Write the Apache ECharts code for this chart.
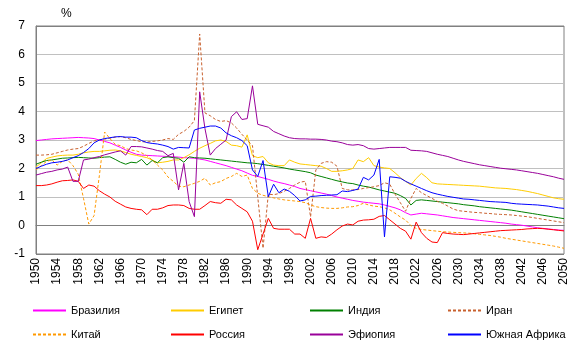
<!DOCTYPE html>
<html>
<head>
<meta charset="utf-8">
<script src="https://cdn.jsdelivr.net/npm/echarts@6/dist/echarts.min.js"></script>
<style>
  html, body { margin: 0; padding: 0; background: #fff; }
  #chart { width: 579px; height: 353px; }
</style>
</head>
<body>
<div id="chart"></div>
<script>
// годы 1950-2050
var years = [];
for (var y = 1950; y <= 2050; y++) years.push(String(y));

var brazil = [2.98,3.0,3.02,3.04,3.05,3.06,3.07,3.08,3.09,3.08,
  3.07,3.05,3.0,2.95,2.9,2.82,2.74,2.65,2.57,2.5,
  2.47,2.46,2.45,2.44,2.43,2.42,2.41,2.4,2.38,2.37,
  2.36,2.33,2.3,2.25,2.2,2.15,2.1,2.04,1.98,1.92,
  1.84,1.76,1.72,1.67,1.62,1.56,1.51,1.47,1.42,1.37,
  1.3,1.26,1.22,1.18,1.14,1.1,1.05,1.0,0.96,0.92,
  0.88,0.85,0.82,0.8,0.78,0.76,0.72,0.67,0.62,0.55,
  0.45,0.37,0.4,0.43,0.41,0.39,0.37,0.34,0.31,0.28,
  0.26,0.24,0.22,0.2,0.18,0.16,0.14,0.12,0.1,0.08,
  0.05,0.03,0.01,-0.02,-0.05,-0.08,-0.1,-0.12,-0.14,-0.16,
  -0.17];
var egypt = [2.05,2.2,2.35,2.4,2.44,2.46,2.47,2.47,2.5,2.55,
  2.58,2.6,2.6,2.62,2.64,2.65,2.62,2.56,2.5,2.46,
  2.42,2.38,2.3,2.2,2.22,2.25,2.3,2.3,2.38,2.48,
  2.6,2.71,2.8,2.88,2.97,3.0,2.95,2.82,2.8,2.75,
  3.18,2.45,2.38,2.42,2.2,2.12,2.1,2.1,2.3,2.22,
  2.16,2.14,2.12,2.1,2.08,2.0,1.9,1.9,1.92,1.95,
  2.0,2.3,2.24,2.38,2.1,2.05,2.02,2.0,1.85,1.68,
  1.55,1.42,1.65,1.83,1.68,1.5,1.46,1.45,1.44,1.43,
  1.42,1.41,1.4,1.39,1.38,1.36,1.34,1.32,1.31,1.3,
  1.28,1.26,1.23,1.2,1.16,1.12,1.07,1.02,0.97,0.94,
  0.92];
var india = [2.15,2.22,2.28,2.3,2.33,2.36,2.37,2.38,2.39,2.38,
  2.37,2.36,2.38,2.4,2.41,2.32,2.22,2.15,2.22,2.2,
  2.32,2.12,2.28,2.2,2.38,2.41,2.38,2.36,2.22,2.41,
  2.38,2.37,2.36,2.34,2.32,2.3,2.28,2.26,2.24,2.22,
  2.2,2.19,2.17,2.14,2.11,2.08,2.05,2.02,1.98,1.95,
  1.92,1.89,1.85,1.77,1.72,1.67,1.62,1.57,1.53,1.49,
  1.47,1.42,1.38,1.35,1.3,1.25,1.21,1.17,1.13,1.05,
  0.95,0.72,0.88,0.9,0.88,0.86,0.84,0.82,0.8,0.78,
  0.76,0.73,0.71,0.69,0.66,0.64,0.62,0.6,0.58,0.56,
  0.54,0.51,0.48,0.45,0.42,0.39,0.36,0.33,0.3,0.27,
  0.24];
var iran = [2.47,2.47,2.48,2.5,2.55,2.6,2.65,2.68,2.7,2.78,
  2.88,2.97,3.0,3.03,3.06,3.1,3.12,3.08,3.02,2.98,
  2.94,2.93,2.95,2.97,3.0,3.05,3.02,3.2,3.3,3.45,
  3.68,6.72,3.95,3.85,3.72,3.65,3.68,3.6,3.42,3.2,
  3.0,2.8,1.0,-0.8,1.1,1.08,1.12,1.2,1.3,1.42,
  1.52,1.55,0.3,1.95,2.18,2.24,2.22,2.08,1.3,1.25,
  1.25,1.26,1.3,1.33,1.36,1.4,1.5,1.45,1.1,0.8,
  0.5,0.95,1.3,1.15,1.05,0.95,0.85,0.78,0.68,0.58,
  0.52,0.5,0.48,0.46,0.45,0.43,0.42,0.4,0.39,0.38,
  0.37,0.35,0.33,0.31,0.28,0.25,0.22,0.19,0.16,0.13,
  0.1];
var china = [1.95,2.1,2.25,2.3,2.12,2.25,2.3,2.1,1.8,0.95,
  0.05,0.35,1.75,3.28,3.05,2.85,2.8,2.7,2.65,2.62,
  2.55,2.45,2.3,2.12,1.95,1.7,1.55,1.38,1.36,1.42,
  1.48,1.55,1.66,1.42,1.5,1.54,1.65,1.72,1.83,1.72,
  1.77,1.3,1.13,1.06,1.01,0.97,0.93,0.9,0.88,0.86,
  0.84,0.8,0.72,0.66,0.63,0.61,0.6,0.6,0.62,0.65,
  0.66,0.7,0.78,0.72,0.68,0.66,0.62,0.55,0.43,0.3,
  0.19,0.0,-0.1,-0.14,-0.16,-0.18,-0.2,-0.22,-0.23,-0.24,
  -0.25,-0.26,-0.27,-0.29,-0.31,-0.33,-0.35,-0.38,-0.41,-0.45,
  -0.48,-0.51,-0.54,-0.57,-0.6,-0.63,-0.66,-0.69,-0.72,-0.76,
  -0.8];
var russia = [1.4,1.4,1.42,1.46,1.52,1.57,1.58,1.6,1.55,1.3,
  1.42,1.38,1.22,1.1,1.0,0.85,0.75,0.65,0.6,0.57,
  0.55,0.38,0.57,0.57,0.62,0.7,0.72,0.72,0.7,0.6,
  0.57,0.57,0.7,0.84,0.8,0.78,0.92,0.9,0.72,0.6,
  0.48,0.15,-0.85,-0.3,0.25,-0.1,-0.13,-0.13,-0.13,-0.3,
  -0.3,-0.45,0.25,-0.45,-0.4,-0.42,-0.3,-0.15,-0.02,0.05,
  0.02,0.15,0.19,0.2,0.22,0.32,0.35,0.2,0.05,-0.1,
  -0.2,-0.48,0.12,-0.25,-0.45,-0.58,-0.6,-0.25,-0.28,-0.3,
  -0.31,-0.32,-0.3,-0.28,-0.26,-0.24,-0.22,-0.2,-0.18,-0.17,
  -0.16,-0.15,-0.14,-0.12,-0.11,-0.1,-0.11,-0.13,-0.15,-0.17,
  -0.19];
var ethiopia = [1.77,1.82,1.87,1.9,1.95,1.98,2.05,1.55,1.55,2.3,
  2.33,2.38,2.42,2.48,2.53,2.58,2.62,2.47,2.77,2.77,
  2.76,2.72,2.68,2.63,2.6,2.45,2.53,1.25,2.18,0.84,
  0.31,4.69,3.4,2.47,2.7,2.85,3.0,3.82,3.99,3.72,
  3.75,4.9,3.55,3.5,3.45,3.3,3.22,3.14,3.08,3.05,
  3.04,3.04,3.03,3.03,3.02,3.0,2.96,2.94,2.9,2.84,
  2.82,2.84,2.8,2.7,2.68,2.7,2.72,2.74,2.74,2.74,
  2.74,2.64,2.63,2.62,2.6,2.55,2.5,2.46,2.42,2.36,
  2.3,2.25,2.21,2.17,2.13,2.1,2.07,2.04,2.01,1.99,
  1.97,1.95,1.92,1.89,1.86,1.83,1.79,1.75,1.71,1.66,
  1.62];
var southAfrica = [2.0,2.08,2.15,2.2,2.22,2.25,2.3,2.38,2.45,2.56,
  2.7,2.9,3.0,3.05,3.08,3.11,3.12,3.1,3.1,3.08,
  2.98,2.91,2.88,2.86,2.82,2.77,2.68,2.74,2.73,2.72,
  3.35,3.41,3.45,3.49,3.49,3.42,3.25,3.15,3.08,2.98,
  2.8,1.95,1.72,2.28,1.01,1.45,1.15,1.28,1.2,1.05,
  0.86,0.9,1.02,1.03,1.05,1.06,1.07,1.08,1.21,1.19,
  1.23,1.28,1.69,1.6,1.77,2.32,-0.4,1.71,1.69,1.66,
  1.55,1.46,1.38,1.3,1.22,1.15,1.1,1.06,1.02,0.99,
  0.96,0.93,0.92,0.9,0.88,0.86,0.84,0.83,0.82,0.81,
  0.78,0.76,0.75,0.74,0.73,0.72,0.7,0.68,0.65,0.62,
  0.6];

var yTicks = [-1, 7, 1]; // min, max, шаг

var chart = echarts.init(document.getElementById('chart'));

var FONT = '"Liberation Sans", Arial, sans-serif';

function mkSeries(name, data, color, dashed) {
  return {
    name: name,
    type: 'line',
    data: data,
    symbol: 'none',
    silent: true,
    lineStyle: { color: color, width: 1, type: dashed ? [3, 2] : 'solid' },
    itemStyle: { color: color }
  };
}

function mkLegend(left, names) {
  return {
    left: left,
    top: 305,
    orient: 'vertical',
    itemWidth: 33,
    itemHeight: 12,
    itemGap: 13,
    padding: 0,
    data: names,
    itemStyle: { opacity: 0 },
    textStyle: { fontFamily: FONT, fontSize: 11, color: '#000' }
  };
}

chart.setOption({
  animation: false,
  title: {
    text: '%',
    left: 61,
    top: 8,
    padding: 0,
    textStyle: { fontFamily: FONT, fontSize: 12, fontWeight: 'normal', color: '#000' }
  },
  legend: [
    mkLegend(32, ['Бразилия', 'Китай']),
    mkLegend(170, ['Египет', 'Россия']),
    mkLegend(309, ['Индия', 'Эфиопия']),
    mkLegend(447, ['Иран', 'Южная Африка'])
  ],
  grid: {
    left: 36, right: 15, top: 26, bottom: 99,
    show: true, borderColor: '#808080', borderWidth: 1
  },
  xAxis: {
    type: 'category',
    data: years,
    boundaryGap: false,
    axisLine: { lineStyle: { color: '#808080' } },
    axisTick: { show: false },
    axisLabel: {
      interval: 3,
      rotate: 90,
      margin: 4,
      fontFamily: FONT,
      fontSize: 12,
      color: '#000'
    },
    splitLine: { show: false }
  },
  yAxis: {
    type: 'value',
    min: yTicks[0],
    max: yTicks[1],
    interval: yTicks[2],
    axisLine: { show: true, lineStyle: { color: '#808080' } },
    axisTick: { show: false },
    axisLabel: { margin: 11, fontFamily: FONT, fontSize: 12, color: '#000' },
    splitLine: {
      lineStyle: {
        color: ['#808080', '#000000', '#c0c0c0', '#c0c0c0', '#c0c0c0', '#c0c0c0', '#c0c0c0', '#c0c0c0', '#808080'],
        width: 1
      }
    }
  },
  series: [
    mkSeries('Бразилия', brazil, '#ff00ff', false),
    mkSeries('Египет', egypt, '#ffcc00', false),
    mkSeries('Индия', india, '#008000', false),
    mkSeries('Иран', iran, '#c8602e', true),
    mkSeries('Китай', china, '#ff9900', true),
    mkSeries('Россия', russia, '#ff0000', false),
    mkSeries('Эфиопия', ethiopia, '#990099', false),
    mkSeries('Южная Африка', southAfrica, '#0000ff', false)
  ]
});
</script>
</body>
</html>
